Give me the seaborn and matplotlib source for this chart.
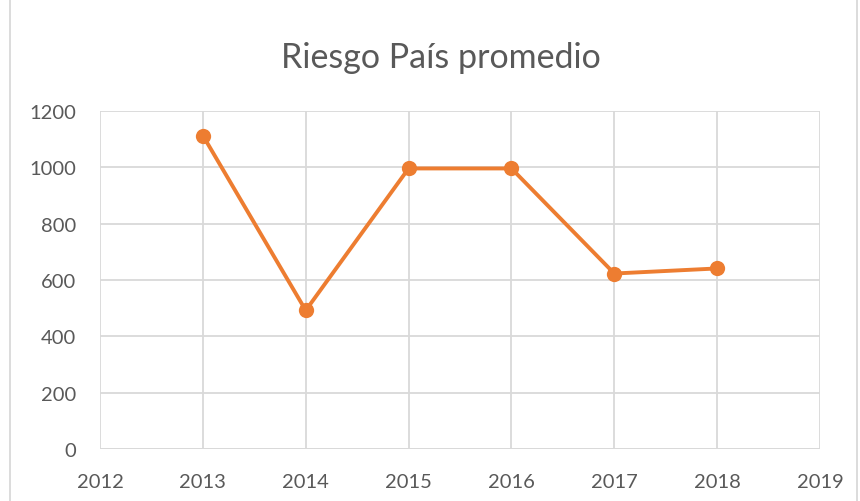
import seaborn as sns
import matplotlib.pyplot as plt
import pandas as pd
from matplotlib.patches import Rectangle

# data
years = [2013, 2014, 2015, 2016, 2017, 2018]
riesgo = [1113, 492, 996, 996, 623, 641]
x_ticks = [2012, 2013, 2014, 2015, 2016, 2017, 2018, 2019]
y_ticks = [0, 200, 400, 600, 800, 1000, 1200]

df = pd.DataFrame({"anio": years, "riesgo": riesgo})

sns.set_style("white")
plt.rcParams['font.family'] = ['Lato', 'DejaVu Sans']

fig = plt.figure(figsize=(8.6, 5.02), dpi=100)
ax = fig.add_axes([0.1163, 0.1036, 0.8372, 0.6733])

sns.lineplot(data=df, x="anio", y="riesgo", color="#ED7D31", linewidth=2.8,
             marker="o", markersize=11, markeredgewidth=0, ax=ax, zorder=3)

ax.set_xlim(2012, 2019)
ax.set_ylim(0, 1200)
ax.set_xticks(x_ticks)
ax.set_yticks(y_ticks)
ax.set_xticklabels([str(t) for t in x_ticks])
ax.set_yticklabels([str(t) for t in y_ticks])
ax.tick_params(axis="both", length=0, labelsize=14.5, colors="#595959")
ax.tick_params(axis="x", pad=17)
ax.tick_params(axis="y", pad=17)
ax.grid(True, color="#D9D9D9", linewidth=1.3)
for s in ax.spines.values():
    s.set_visible(False)
ax.axhline(0, color="#D9D9D9", linewidth=1.3, zorder=1)
ax.set_xlabel("")
ax.set_ylabel("")

fig.text(0.513, 0.885, "Riesgo País promedio", ha="center", va="center",
         fontsize=24.5, color="#595959")

# chart border like the spreadsheet chart area
fig.patches.append(Rectangle((0.012, -0.01), 0.985, 1.02, transform=fig.transFigure,
                             fill=False, edgecolor="#D9D9D9", linewidth=1.3))

fig.savefig("out.png", dpi=100)
